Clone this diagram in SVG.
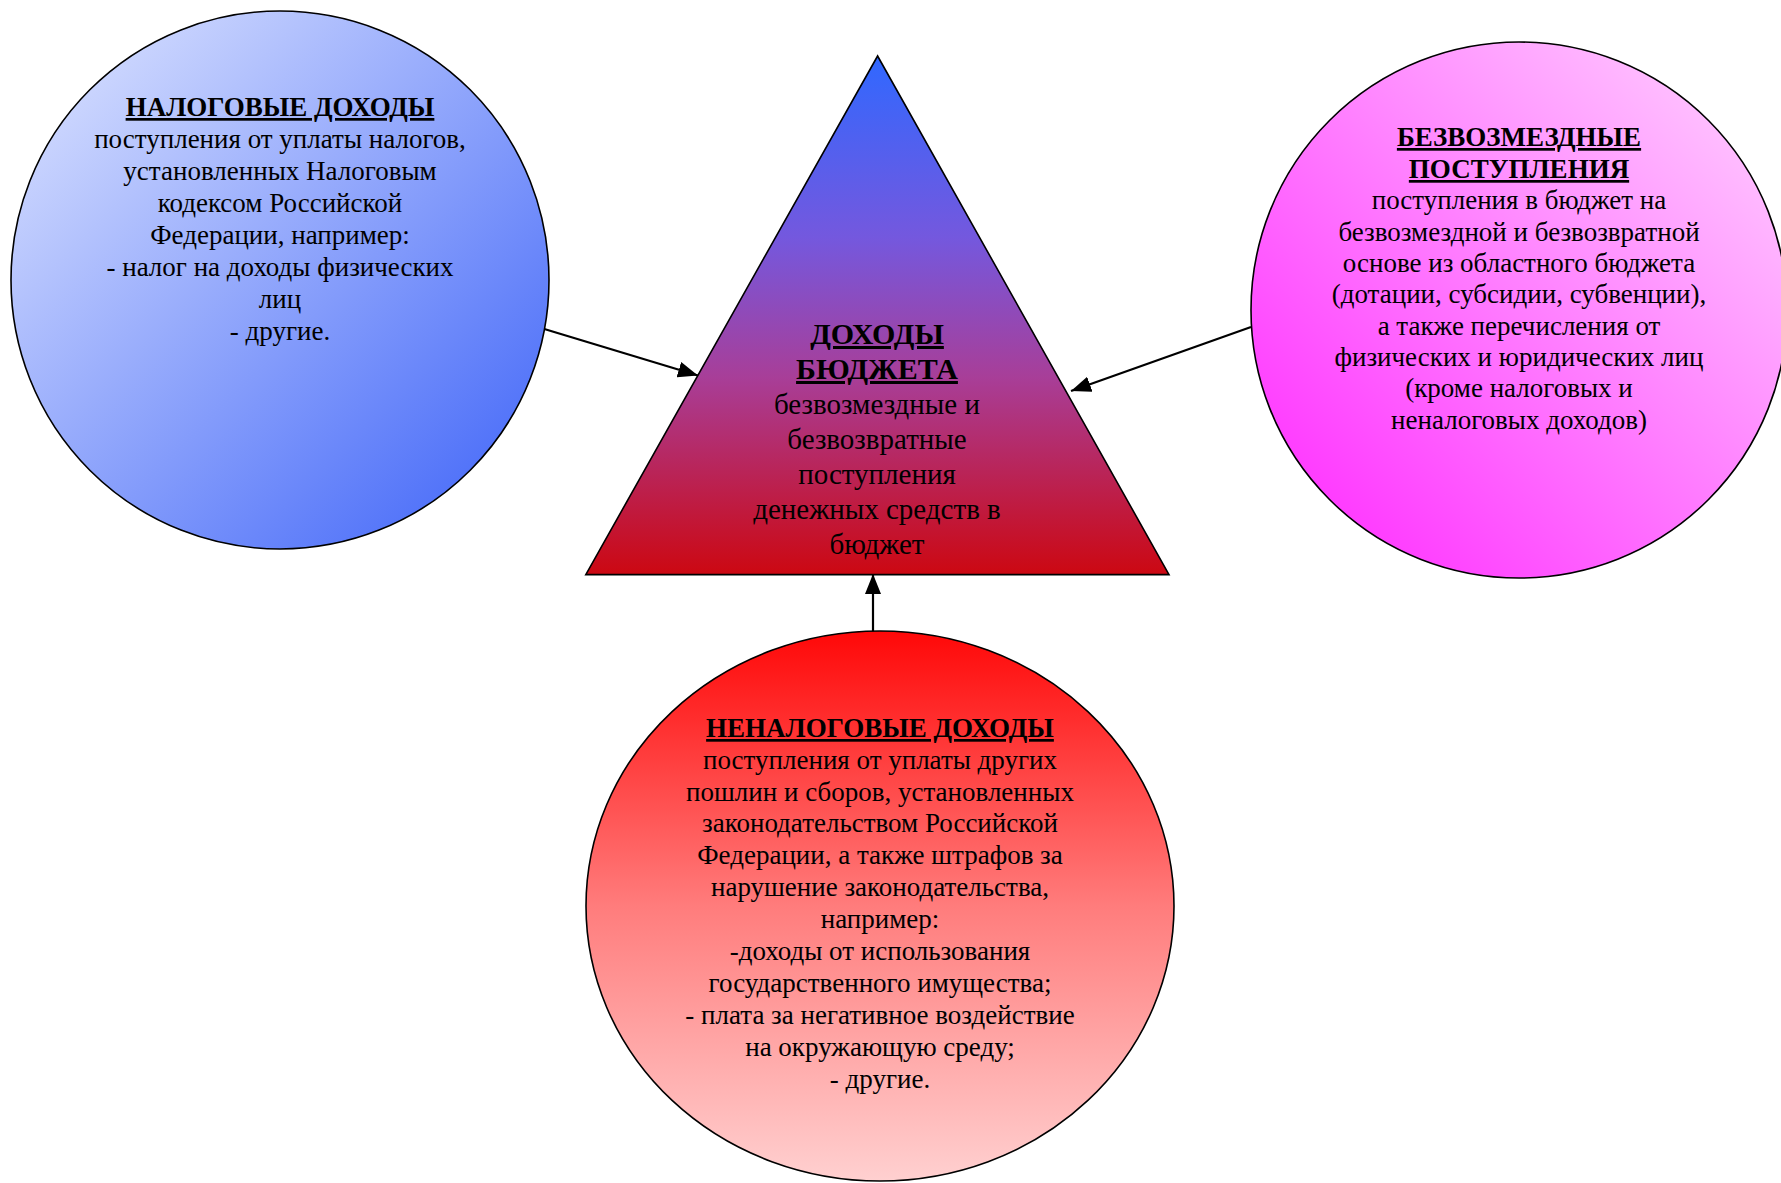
<svg xmlns="http://www.w3.org/2000/svg" width="1781" height="1183" viewBox="0 0 1781 1183">
<defs>
<style>
.t{font-family:"Liberation Serif","Times New Roman",serif;fill:#000;text-anchor:middle}
.b{font-size:27px}
.h{font-size:27px;font-weight:bold;text-decoration:underline}
.tb{font-size:29px}
.th{font-size:30px;font-weight:bold;text-decoration:underline}
.shape{stroke:#000;stroke-width:1.6}
.conn{stroke:#000;stroke-width:2.2;fill:none;marker-end:url(#arr)}
</style>
<linearGradient id="gBlue" x1="0" y1="0" x2="1" y2="1">
<stop offset="0" stop-color="#e2e8ff"/>
<stop offset="1" stop-color="#3a60f8"/>
</linearGradient>
<linearGradient id="gPink" x1="0" y1="1" x2="1" y2="0">
<stop offset="0" stop-color="#ff22ff"/>
<stop offset="1" stop-color="#ffd6ff"/>
</linearGradient>
<linearGradient id="gRed" x1="0" y1="0" x2="0" y2="1">
<stop offset="0" stop-color="#ff0808"/>
<stop offset="0.5" stop-color="#ff7c7c"/>
<stop offset="1" stop-color="#ffd0d0"/>
</linearGradient>
<linearGradient id="gTri" x1="0" y1="0" x2="0" y2="1">
<stop offset="0" stop-color="#3068ff"/>
<stop offset="0.35" stop-color="#7458de"/>
<stop offset="0.62" stop-color="#a83e98"/>
<stop offset="1" stop-color="#cc0812"/>
</linearGradient>
<marker id="arr" markerUnits="userSpaceOnUse" markerWidth="22" markerHeight="16" refX="20" refY="8" orient="auto">
<path d="M0,0 L20,8 L0,16 Z" fill="#000"/>
</marker>
</defs>
<rect width="1781" height="1183" fill="#fff"/>

<g id="connectors">
<line class="conn" x1="541" y1="328" x2="698" y2="375.5"/>
<line class="conn" x1="1251" y1="327" x2="1071" y2="391"/>
<line class="conn" x1="873" y1="632" x2="873" y2="574"/>
</g>

<g id="node-nalog">
<circle class="shape" cx="280" cy="280" r="269" fill="url(#gBlue)"/>
<text class="t h" x="280" y="116">НАЛОГОВЫЕ ДОХОДЫ</text>
<text class="t b" x="280" y="148">поступления от уплаты налогов,</text>
<text class="t b" x="280" y="180">установленных Налоговым</text>
<text class="t b" x="280" y="212">кодексом Российской</text>
<text class="t b" x="280" y="244">Федерации, например:</text>
<text class="t b" x="280" y="276">- налог на доходы физических</text>
<text class="t b" x="280" y="308">лиц</text>
<text class="t b" x="280" y="340">- другие.</text>
</g>

<g id="node-bezv">
<circle class="shape" cx="1519" cy="310" r="268" fill="url(#gPink)"/>
<text class="t h" x="1519" y="146">БЕЗВОЗМЕЗДНЫЕ</text>
<text class="t h" x="1519" y="178">ПОСТУПЛЕНИЯ</text>
<text class="t b" x="1519" y="209">поступления в бюджет на</text>
<text class="t b" x="1519" y="241">безвозмездной и безвозвратной</text>
<text class="t b" x="1519" y="272">основе из областного бюджета</text>
<text class="t b" x="1519" y="303">(дотации, субсидии, субвенции),</text>
<text class="t b" x="1519" y="335">а также перечисления от</text>
<text class="t b" x="1519" y="366">физических и юридических лиц</text>
<text class="t b" x="1519" y="397">(кроме налоговых и</text>
<text class="t b" x="1519" y="429">неналоговых доходов)</text>
</g>

<g id="node-nenalog">
<ellipse class="shape" cx="880" cy="906" rx="294" ry="275" fill="url(#gRed)"/>
<text class="t h" x="880" y="737">НЕНАЛОГОВЫЕ ДОХОДЫ</text>
<text class="t b" x="880" y="769">поступления от уплаты других</text>
<text class="t b" x="880" y="801">пошлин и сборов, установленных</text>
<text class="t b" x="880" y="832">законодательством Российской</text>
<text class="t b" x="880" y="864">Федерации, а также штрафов за</text>
<text class="t b" x="880" y="896">нарушение законодательства,</text>
<text class="t b" x="880" y="928">например:</text>
<text class="t b" x="880" y="960">-доходы от использования</text>
<text class="t b" x="880" y="992">государственного имущества;</text>
<text class="t b" x="880" y="1024">- плата за негативное воздействие</text>
<text class="t b" x="880" y="1056">на окружающую среду;</text>
<text class="t b" x="880" y="1088">- другие.</text>
</g>

<g id="node-dohody">
<polygon class="shape" points="877.6,56 585.8,574.6 1169,574.6" fill="url(#gTri)"/>
<text class="t th" x="877" y="344">ДОХОДЫ</text>
<text class="t th" x="877" y="379">БЮДЖЕТА</text>
<text class="t tb" x="877" y="414">безвозмездные и</text>
<text class="t tb" x="877" y="449">безвозвратные</text>
<text class="t tb" x="877" y="484">поступления</text>
<text class="t tb" x="877" y="519">денежных средств в</text>
<text class="t tb" x="877" y="554">бюджет</text>
</g>
</svg>
